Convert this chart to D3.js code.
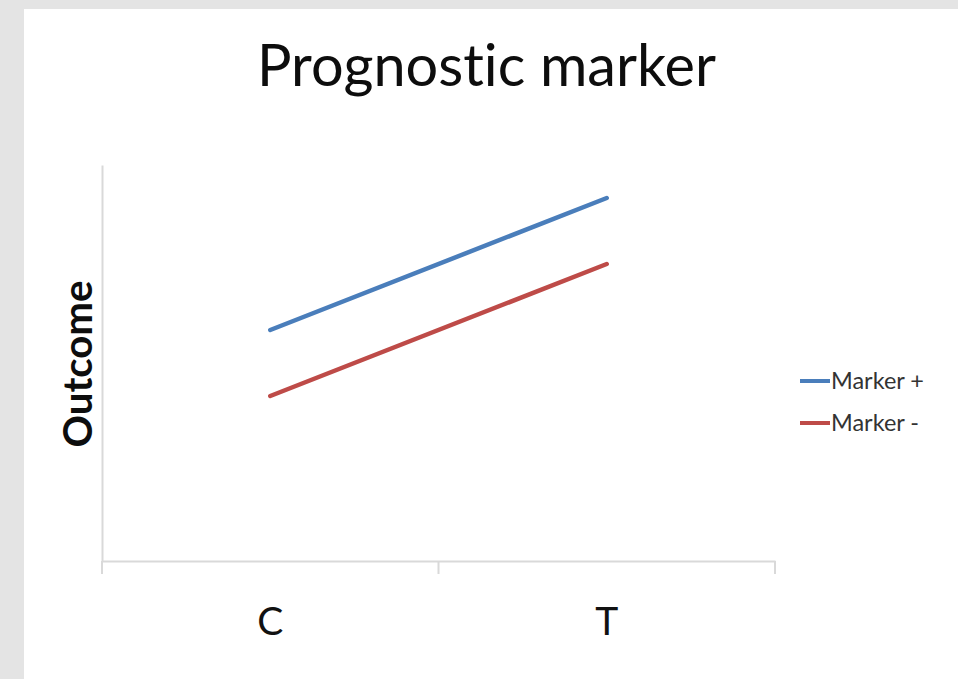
<!DOCTYPE html>
<html>
<head>
<meta charset="utf-8">
<script src="https://cdn.jsdelivr.net/npm/d3@7"></script>
<style>
  html, body { margin: 0; padding: 0; background: #e4e4e4; }
  svg { display: block; }
  text { font-variant-ligatures: none; font-feature-settings: "liga" 0, "clig" 0; }
</style>
</head>
<body>
<script>
// Chart data
const categories = ["C", "T"];
const seriesNames = ["Marker +", "Marker -"];
const markerPlus = [7, 11];
const markerMinus = [5, 9];
const seriesColors = ["#4a7ebb", "#be4b48"];
const yDomain = [0, 12];

const W = 958, H = 679;
const svg = d3.select("body").append("svg").attr("width", W).attr("height", H);

// white chart panel on grey surround
svg.append("rect").attr("x", 24).attr("y", 9).attr("width", W - 24).attr("height", H - 9).attr("fill", "#ffffff");

const plot = { left: 102, right: 775, top: 165, bottom: 561 };

const x = d3.scaleBand().domain(categories).range([plot.left, plot.right]).padding(0);
const y = d3.scaleLinear().domain(yDomain).range([plot.bottom, plot.top]);

const axisColor = "#d9d9d9";

// y axis: plain line, no ticks
const yAxis = svg.append("g").attr("transform", `translate(${plot.left},0)`)
  .call(d3.axisLeft(y).tickValues([]).tickSizeOuter(0));
yAxis.select(".domain").attr("stroke", axisColor).attr("stroke-width", 2);

// x axis: line with ticks at category boundaries
const xAxis = svg.append("g").attr("transform", `translate(0,${plot.bottom})`)
  .call(d3.axisBottom(x).tickValues([]).tickSizeOuter(0));
xAxis.select(".domain").attr("stroke", axisColor).attr("stroke-width", 2);
const boundaries = categories.map(c => x(c)).concat([x(categories[categories.length - 1]) + x.bandwidth()]);
xAxis.selectAll("line.bound").data(boundaries).join("line")
  .attr("class", "bound")
  .attr("x1", d => d).attr("x2", d => d)
  .attr("y1", 0).attr("y2", 13)
  .attr("stroke", axisColor).attr("stroke-width", 2);

// category labels
svg.selectAll("text.cat").data(categories).join("text")
  .attr("class", "cat")
  .attr("x", d => x(d) + x.bandwidth() / 2)
  .attr("y", 635)
  .attr("text-anchor", "middle")
  .attr("font-family", "Lato, 'Open Sans', sans-serif")
  .attr("font-size", 39)
  .attr("fill", "#111")
  .text(d => d);

// series lines
const series = [markerPlus, markerMinus];
const line = d3.line()
  .x((d, i) => x(categories[i]) + x.bandwidth() / 2)
  .y(d => y(d));
svg.selectAll("path.series").data(series).join("path")
  .attr("class", "series")
  .attr("d", d => line(d))
  .attr("fill", "none")
  .attr("stroke", (d, i) => seriesColors[i])
  .attr("stroke-width", 4.5)
  .attr("stroke-linecap", "round");

// fit a text element's width to a target by adjusting font size
function fitWidth(sel, target) {
  const node = sel.node();
  const fs = parseFloat(sel.attr("font-size"));
  const w = node.getComputedTextLength();
  sel.attr("font-size", (fs * target / w).toFixed(2));
}

// title
const title = svg.append("text")
  .attr("x", 486.5).attr("y", 86)
  .attr("text-anchor", "middle")
  .attr("font-family", "Lato, 'Open Sans', sans-serif")
  .attr("font-size", 55)
  .attr("fill", "#0d0d0d")
  .text("Prognostic marker");
fitWidth(title, 459);

// y axis title
const yTitle = svg.append("text")
  .attr("transform", "translate(92,364) rotate(-90)")
  .attr("text-anchor", "middle")
  .attr("font-family", "Lato, 'Open Sans', sans-serif")
  .attr("font-weight", "bold")
  .attr("font-size", 40)
  .attr("fill", "#0d0d0d")
  .text("Outcome");
fitWidth(yTitle, 167);

// legend
const legend = svg.append("g");
const legendY = [381, 423];
seriesNames.forEach((name, i) => {
  legend.append("line")
    .attr("x1", 800).attr("x2", 830)
    .attr("y1", legendY[i]).attr("y2", legendY[i])
    .attr("stroke", seriesColors[i]).attr("stroke-width", 4);
  const t = legend.append("text")
    .attr("x", 831).attr("y", legendY[i] + 8)
    .attr("font-family", "Lato, 'Open Sans', sans-serif")
    .attr("font-size", 21)
    .attr("fill", "#333333")
    .text(name);
  if (i === 0) fitWidth(t, 93);
});
// second legend label uses the same size as the first
legend.selectAll("text").attr("font-size", legend.select("text").attr("font-size"));
</script>
</body>
</html>
